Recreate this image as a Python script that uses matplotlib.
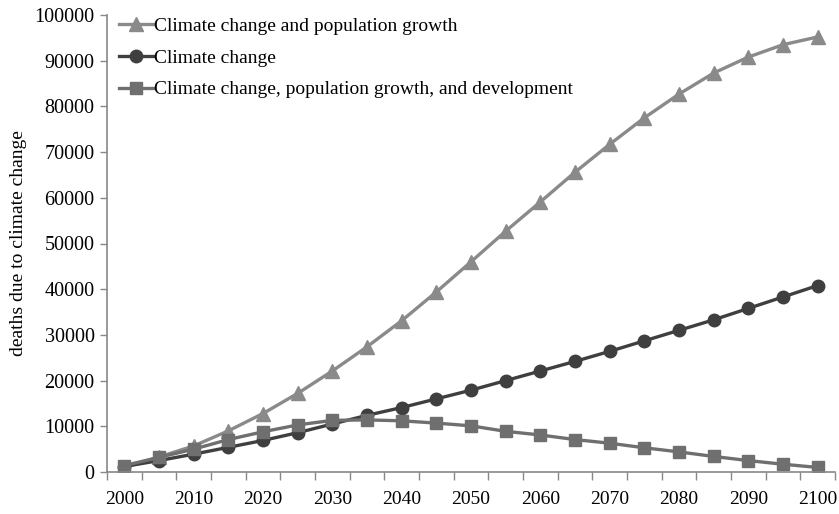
import numpy as np
import matplotlib
matplotlib.use("Agg")
import matplotlib.pyplot as plt

years = list(range(2000, 2101, 5))
year_labels = ["2000", "2010", "2020", "2030", "2040", "2050",
               "2060", "2070", "2080", "2090", "2100"]

# deaths due to climate change, per scenario
pop_growth = [1000, 3300, 5700, 9000, 12800, 17200, 22100, 27400, 33100, 39400,
              46000, 52700, 59100, 65600, 71700, 77500, 82700, 87300, 90800, 93500, 95200]
climate_only = [1200, 2500, 3900, 5400, 6900, 8600, 10500, 12400, 14100, 16000,
                17900, 20000, 22100, 24200, 26400, 28700, 31000, 33300, 35800, 38300, 40800]
pop_dev = [1400, 3200, 5000, 7100, 8800, 10300, 11300, 11400, 11200, 10700,
           10100, 8900, 8100, 7100, 6300, 5300, 4400, 3400, 2500, 1700, 1000]

plt.rcParams['font.family'] = ['Liberation Serif', 'DejaVu Serif']

fig = plt.figure(figsize=(8.39, 5.14), dpi=100)
ax = fig.add_axes([107/839, 42/514, (835-107)/839, (472-15)/514])

x = np.arange(len(years))
ax.plot(x, pop_growth, color="#8a8a8a", lw=2.4, marker="^", ms=10,
        label="Climate change and population growth")
ax.plot(x, climate_only, color="#3f3f3f", lw=2.4, marker="o", ms=9,
        label="Climate change")
ax.plot(x, pop_dev, color="#6f6f6f", lw=2.4, marker="s", ms=8.5,
        label="Climate change, population growth, and development")

ax.set_xlim(-0.5, len(years) - 0.5)
ax.set_ylim(0, 100000)
ax.set_yticks(np.arange(0, 100001, 10000))
ax.set_xticks(np.arange(-0.5, len(years), 1.0))
ax.set_xticklabels([])
ax.set_xticks(np.arange(0, len(years), 2), minor=True)
ax.set_xticklabels(year_labels, minor=True)
ax.tick_params(axis="x", which="minor", length=0, pad=14, labelsize=14)
ax.tick_params(axis="x", which="major", length=6, width=1, color="#888888", direction="out")
ax.tick_params(axis="y", length=5, width=1, color="#888888", labelsize=14.5, pad=4)

for s in ["top", "right"]:
    ax.spines[s].set_visible(False)
for s in ["left", "bottom"]:
    ax.spines[s].set_color("#888888")
    ax.spines[s].set_linewidth(1.2)

ax.set_ylabel("deaths due to climate change", fontsize=14, labelpad=5)

ax.legend(loc="upper left", bbox_to_anchor=(0.0, 1.02), frameon=False, fontsize=14,
          handlelength=1.75, handletextpad=0.05, labelspacing=0.72, borderaxespad=0.2)

fig.savefig("out.png", dpi=100)
